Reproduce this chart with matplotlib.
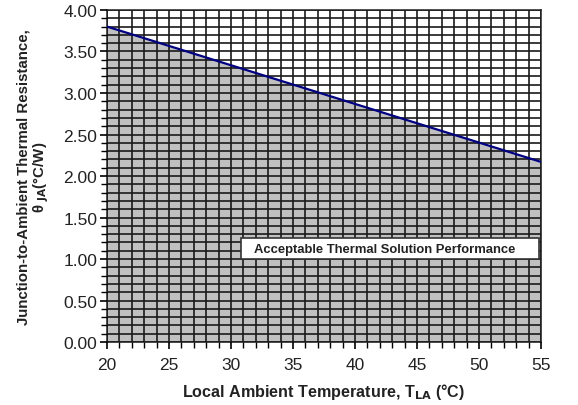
import numpy as np
import matplotlib.pyplot as plt
from matplotlib.patches import Rectangle
from matplotlib.ticker import MultipleLocator

plt.rcParams['font.family'] = ['Liberation Sans', 'DejaVu Sans']

# Thermal resistance limit line (deg C ambient -> theta JA)
temps = [20, 55]
theta_ja = [3.80, 2.17]
x_ticks = [20, 25, 30, 35, 40, 45, 50, 55]
y_ticks = [0.0, 0.5, 1.0, 1.5, 2.0, 2.5, 3.0, 3.5, 4.0]
box_text = 'Acceptable Thermal Solution Performance'

fig = plt.figure(figsize=(5.78, 4.06), dpi=100)
ax = fig.add_axes([0.185, 0.155, 0.751, 0.818])

ax.fill_between(temps, 0, theta_ja, color='#c0c0c0', zorder=0)
ax.plot(temps, theta_ja, color='#000080', linewidth=1.6, zorder=3)

ax.set_xlim(20, 55)
ax.set_ylim(0, 4.0)
ax.set_xticks(x_ticks)
ax.set_yticks(y_ticks)
ax.set_yticklabels([f'{v:.2f}' for v in y_ticks])
ax.xaxis.set_minor_locator(MultipleLocator(1))
ax.yaxis.set_minor_locator(MultipleLocator(0.1))

# dense grid
ax.grid(True, which='both', color='#1a1a1a', linewidth=1.2, zorder=1)
ax.set_axisbelow(False)
for s in ax.spines.values():
    s.set_color('#333333')
    s.set_linewidth(1.2)

ax.tick_params(axis='both', which='major', labelsize=12.5, length=5, width=1.2,
               direction='out', labelcolor='#222222')
ax.tick_params(axis='both', which='minor', length=4, width=1.0, direction='out')
ax.tick_params(axis='x', pad=6)
ax.tick_params(axis='y', pad=2)

ax.set_xlabel('Local Ambient Temperature, T$_{\\mathbf{LA}}$ (°C)', fontsize=11.6,
              fontweight='bold', labelpad=6, color='#222222')
ax.set_ylabel('Junction-to-Ambient Thermal Resistance,\n\u03b8 $_{\\mathbf{JA}}$(°C/W)',
              fontsize=10.8, fontweight='bold', labelpad=9, linespacing=1.05,
              color='#222222')

# label box
ax.add_patch(Rectangle((30.8, 1.0), 24.0, 0.25, facecolor='white', edgecolor='#333333',
                       linewidth=1.2, zorder=5))
ax.text(42.4, 1.12, box_text, fontsize=9.4, fontweight='bold', ha='center', va='center',
        zorder=6, color='#222222')

plt.savefig('out.png', dpi=100)
